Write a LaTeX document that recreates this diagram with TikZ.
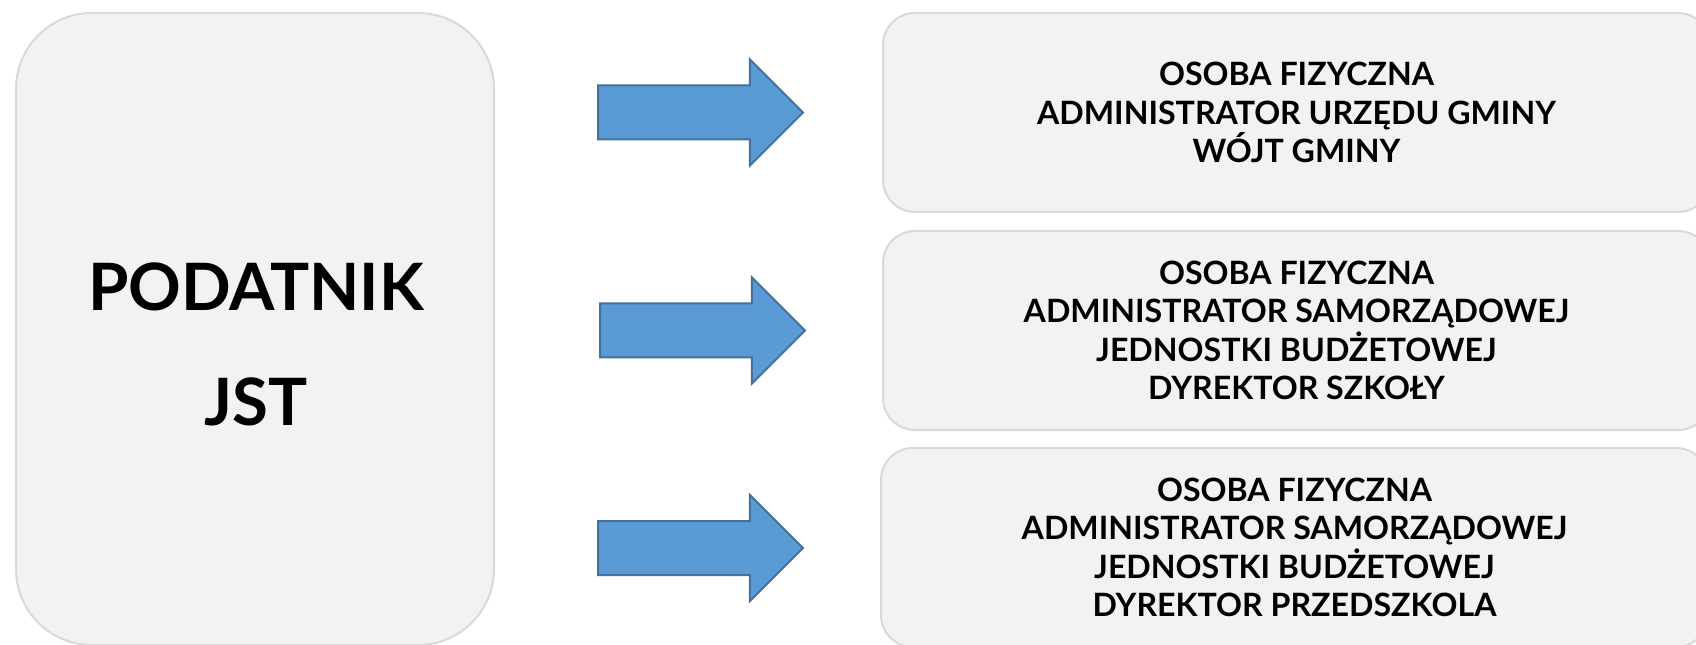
\documentclass[tikz,border=0pt]{standalone}
\usepackage{fontspec}
\setmainfont{Lato}
\usetikzlibrary{shapes.arrows}
\definecolor{boxfill}{HTML}{F2F2F2}
\definecolor{boxline}{HTML}{D9D9D9}
\definecolor{arrowfill}{HTML}{5B9BD5}
\definecolor{arrowline}{HTML}{41719C}
\tikzset{
    mainbox/.style={draw=boxline, fill=boxfill, line width=1.5pt, rounded corners=57pt,
        minimum width=358.5pt, minimum height=474pt, inner sep=0pt},
    maintext/.style={font=\bfseries\fontsize{49}{86.25}\selectfont, align=center, inner sep=0pt},
    rolebox/.style={draw=boxline, fill=boxfill, line width=1.5pt, rounded corners=24pt,
        minimum width=620.25pt, minimum height=149.25pt, inner sep=0pt, align=center,
        font=\bfseries\fontsize{24.1}{28.7}\selectfont},
    bigarrow/.style={shape=single arrow, draw=arrowline, fill=arrowfill, line width=1.5pt,
        inner xsep=0pt, inner ysep=19.5pt, minimum height=153.75pt,
        single arrow head extend=19.6pt, anchor=tail}
}

\begin{document}
\begin{tikzpicture}[x=0.75pt, y=-0.75pt]
    \useasboundingbox (0,0) rectangle (1696,645);
    % taxpayer box
    \node[mainbox] (payer) at (255,329) {};
    \node[maintext] (payertext) at (256,344) {PODATNIK\\JST};
    % role boxes
    \node[rolebox] (gmina) at (1296.5,112.5) {OSOBA FIZYCZNA\\ADMINISTRATOR URZĘDU GMINY\\WÓJT GMINY};
    \node[rolebox] (szkola) at (1296.5,330.5) {OSOBA FIZYCZNA\\ADMINISTRATOR SAMORZĄDOWEJ\\JEDNOSTKI BUDŻETOWEJ\\DYREKTOR SZKOŁY};
    \node[rolebox] (przedszkole) at (1294.5,547.5) {OSOBA FIZYCZNA\\ADMINISTRATOR SAMORZĄDOWEJ\\JEDNOSTKI BUDŻETOWEJ\\DYREKTOR PRZEDSZKOLA};
    % arrows
    \node[bigarrow] (arrgmina) at (597,112.5) {};
    \node[bigarrow] (arrszkola) at (599,330.5) {};
    \node[bigarrow] (arrprzedszkole) at (597,548) {};
\end{tikzpicture}
\end{document}
